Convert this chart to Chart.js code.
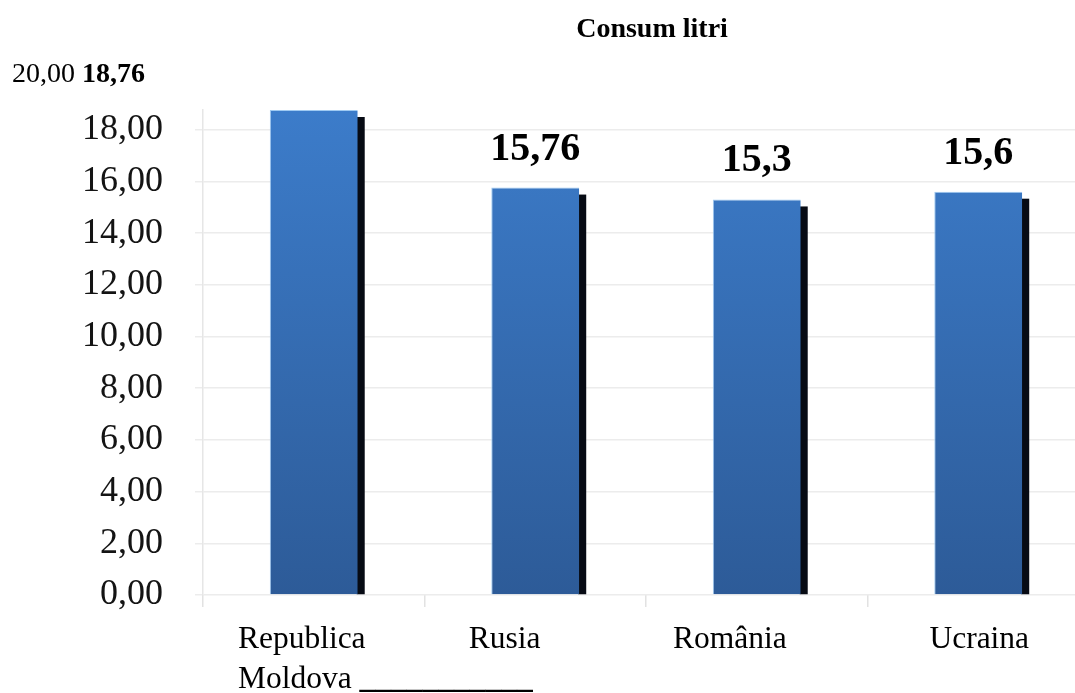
<!DOCTYPE html>
<html>
<head>
<meta charset="utf-8">
<script src="https://cdn.jsdelivr.net/npm/chart.js@4.4.1/dist/chart.umd.min.js"></script>
<style>
    html, body { margin: 0; padding: 0; background: #fff; overflow: hidden; }
    #chart { position: absolute; left: 0; top: 0; }
</style>
</head>
<body>
<canvas id="chart" width="1100" height="693"></canvas>
<script>
const categories = [['Republica', 'Moldova'], 'Rusia', 'România', 'Ucraina'];
const consum = [18.76, 15.76, 15.3, 15.6];
const yTicks = [0, 2, 4, 6, 8, 10, 12, 14, 16, 18];
const topTick = 20;
const chartTitle = 'Consum litri';

// nudges for the category captions, relative to the bar centre
const labelShift = [-12, -28, -27, 1];
const serif = "'Liberation Serif', 'Times New Roman', serif";

function fmtTick(v) {
    return v.toFixed(2).replace('.', ',');
}
function fmtValue(v) {
    return String(v).replace('.', ',');
}

const barShadow = {
    id: 'barShadow',
    beforeDatasetsDraw(chart) {
        const ctx = chart.ctx;
        const meta = chart.getDatasetMeta(0);
        ctx.save();
        ctx.fillStyle = '#070b14';
        meta.data.forEach(bar => {
            const right = bar.x + bar.width / 2;
            ctx.fillRect(right - 1, bar.y + 7, 8, bar.base - bar.y - 7);
        });
        ctx.restore();
    }
};

const texts = {
    id: 'texts',
    afterDraw(chart) {
        const ctx = chart.ctx;
        const area = chart.chartArea;
        const y = chart.scales.y;
        const meta = chart.getDatasetMeta(0);
        ctx.save();
        ctx.fillStyle = '#000';

        // title
        ctx.font = 'bold 28px ' + serif;
        ctx.textAlign = 'center';
        ctx.textBaseline = 'alphabetic';
        ctx.fillText(chartTitle, 652, 37);

        // top tick caption, with the value that does not fit above its bar
        const capY = y.getPixelForValue(topTick) + 4;
        ctx.textAlign = 'left';
        ctx.font = '28px ' + serif;
        const cap = fmtTick(topTick) + ' ';
        ctx.fillText(cap, 12, capY);
        let capX = 12 + ctx.measureText(cap).width;

        // value labels
        meta.data.forEach((bar, i) => {
            const txt = fmtValue(consum[i]);
            if (bar.y - 70 < area.top) {
                ctx.font = 'bold 28px ' + serif;
                ctx.textAlign = 'left';
                ctx.fillText(txt, capX, capY);
                capX += ctx.measureText(txt + ' ').width;
            } else {
                ctx.font = 'bold 40px ' + serif;
                ctx.textAlign = 'center';
                ctx.fillText(txt, bar.x, bar.y - 28);
            }
        });

        // category captions under the axis
        ctx.font = '31.5px ' + serif;
        ctx.textAlign = 'left';
        meta.data.forEach((bar, i) => {
            const lines = Array.isArray(categories[i]) ? categories[i] : [categories[i]];
            const w = ctx.measureText(lines[0]).width;
            const x0 = bar.x + labelShift[i] - w / 2;
            lines.forEach((line, k) => {
                const by = area.bottom + 53 + k * 40;
                ctx.font = '31.5px ' + serif;
                ctx.fillText(line, x0, by);
                if (k === lines.length - 1 && lines.length > 1) {
                    const lw = ctx.measureText(line + ' ').width;
                    ctx.font = 'bold 31.5px ' + serif;
                    ctx.fillText('___________', x0 + lw, by);
                }
            });
        });
        ctx.restore();
    }
};

const ctx = document.getElementById('chart').getContext('2d');
new Chart(ctx, {
    type: 'bar',
    data: {
        labels: categories,
        datasets: [{
            label: chartTitle,
            data: consum,
            backgroundColor(context) {
                const area = context.chart.chartArea;
                if (!area) return '#3572bc';
                const g = context.chart.ctx.createLinearGradient(0, area.top, 0, area.bottom);
                g.addColorStop(0, '#3c7cca');
                g.addColorStop(1, '#2d5b98');
                return g;
            },
            borderColor: '#9fcaf2',
            borderWidth: { left: 1, top: 1, right: 0, bottom: 0 },
            borderSkipped: false,
            categoryPercentage: 1,
            barPercentage: 0.397
        }]
    },
    options: {
        responsive: false,
        animation: false,
        devicePixelRatio: 1,
        layout: { padding: { left: 0, right: 11, top: 110, bottom: 86 } },
        plugins: {
            legend: { display: false },
            title: { display: false },
            tooltip: { enabled: false }
        },
        scales: {
            x: {
                afterFit(scale) {
                    scale.height = 12;
                },
                ticks: { display: false },
                grid: {
                    offset: true,
                    drawOnChartArea: false,
                    color: '#e2e2e2',
                    lineWidth: 1.5,
                    tickLength: 12
                },
                border: { display: false }
            },
            y: {
                min: 0,
                max: consum[0],
                afterBuildTicks(scale) {
                    scale.ticks = yTicks.map(v => ({ value: v }));
                },
                afterFit(scale) {
                    scale.width = 203;
                },
                ticks: {
                    padding: 32,
                    color: '#141414',
                    font: { family: serif, size: 36 },
                    callback: v => fmtTick(v)
                },
                grid: {
                    color: '#ececec',
                    lineWidth: 1.5,
                    tickLength: 8
                },
                border: { color: '#e6e6e6', width: 1.5 }
            }
        }
    },
    plugins: [barShadow, texts]
});
</script>
</body>
</html>
